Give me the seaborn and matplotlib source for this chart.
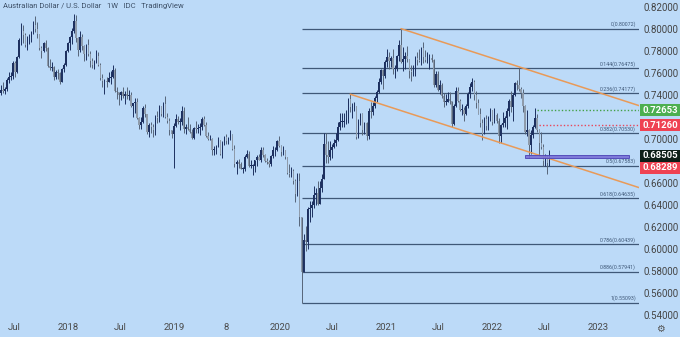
import numpy as np
import pandas as pd
import matplotlib
matplotlib.use("Agg")
import matplotlib.pyplot as plt
import matplotlib.dates as mdates
from matplotlib.patches import Rectangle
from matplotlib.transforms import blended_transform_factory
import seaborn as sns

# ---------------- data (weekly AUD/USD candles) ----------------
first_week = "2017-05-15"
first_open = 0.7420

close_2017 = [0.7450,0.7440,0.7460,0.7540,0.7570,0.7580,0.7690,0.7610,0.7750,0.7900,0.7990,0.7950,0.7860,0.7930,0.7930,0.7980,0.8040,0.8000,0.7960,0.7830,0.7800,0.7880,0.7830,0.7670,0.7650,0.7660,0.7570,0.7610,0.7600,0.7520,0.7640,0.7680,0.7800]
high_2017 = [0.7490,0.7520,0.7480,0.7560,0.7610,0.7610,0.7710,0.7710,0.7760,0.7920,0.8060,0.8040,0.7970,0.7940,0.7960,0.7990,0.8080,0.8120,0.8070,0.7960,0.7850,0.7890,0.7900,0.7840,0.7730,0.7700,0.7670,0.7630,0.7640,0.7610,0.7650,0.7690,0.7810]
low_2017 = [0.7400,0.7420,0.7410,0.7440,0.7510,0.7540,0.7550,0.7570,0.7600,0.7740,0.7860,0.7880,0.7840,0.7810,0.7870,0.7890,0.7960,0.7980,0.7920,0.7810,0.7740,0.7790,0.7800,0.7660,0.7630,0.7620,0.7540,0.7550,0.7550,0.7500,0.7520,0.7610,0.7670]

close_2018 = [0.7880,0.7930,0.7990,0.8080,0.7920,0.7810,0.7930,0.7850,0.7780,0.7860,0.7780,0.7710,0.7680,0.7700,0.7760,0.7680,0.7560,0.7530,0.7530,0.7520,0.7560,0.7570,0.7630,0.7440,0.7430,0.7400,0.7430,0.7390,0.7410,0.7390,0.7400,0.7300,0.7330,0.7340,0.7190,0.7130,0.7160,0.7280,0.7230,0.7070,0.7130,0.7110,0.7080,0.7200,0.7190,0.7300,0.7230,0.7320,0.7200,0.7170,0.7080,0.7050,0.7120]
high_2018 = [0.7890,0.7940,0.8010,0.8140,0.8130,0.7930,0.7990,0.7960,0.7860,0.7870,0.7910,0.7800,0.7740,0.7720,0.7810,0.7790,0.7690,0.7590,0.7550,0.7570,0.7610,0.7620,0.7680,0.7650,0.7480,0.7430,0.7440,0.7480,0.7440,0.7480,0.7450,0.7430,0.7330,0.7380,0.7380,0.7200,0.7200,0.7300,0.7320,0.7230,0.7150,0.7160,0.7140,0.7220,0.7260,0.7310,0.7300,0.7340,0.7390,0.7240,0.7190,0.7080,0.7150]
low_2018 = [0.7790,0.7810,0.7870,0.7970,0.7890,0.7760,0.7790,0.7810,0.7710,0.7720,0.7760,0.7660,0.7650,0.7640,0.7690,0.7670,0.7540,0.7480,0.7410,0.7480,0.7520,0.7500,0.7560,0.7430,0.7370,0.7310,0.7360,0.7380,0.7320,0.7370,0.7360,0.7290,0.7200,0.7240,0.7180,0.7090,0.7090,0.7150,0.7200,0.7050,0.7020,0.7060,0.7020,0.7040,0.7150,0.7160,0.7210,0.7200,0.7190,0.7150,0.7040,0.7010,0.6740]

close_2019 = [0.7180,0.7160,0.7160,0.7260,0.7090,0.7110,0.7090,0.7070,0.7010,0.7100,0.7090,0.7100,0.7110,0.7180,0.7130,0.7030,0.7000,0.7000,0.6900,0.6910,0.6940,0.6990,0.6870,0.6970,0.7020,0.6980,0.7010,0.7040,0.6910,0.6770,0.6790,0.6770,0.6730,0.6730,0.6840,0.6870,0.6760,0.6760,0.6760,0.6810,0.6840,0.6810,0.6900,0.6860,0.6800,0.6790,0.6770,0.6850,0.6900,0.6900,0.6980,0.6940]
high_2019 = [0.7230,0.7210,0.7190,0.7300,0.7290,0.7140,0.7200,0.7140,0.7090,0.7110,0.7170,0.7140,0.7150,0.7200,0.7210,0.7160,0.7070,0.7040,0.7010,0.6940,0.6950,0.7020,0.6990,0.6980,0.7030,0.7050,0.7020,0.7080,0.7050,0.6950,0.6810,0.6820,0.6790,0.6750,0.6860,0.6900,0.6890,0.6810,0.6770,0.6810,0.6860,0.6870,0.6930,0.6930,0.6870,0.6830,0.6810,0.6860,0.6940,0.6930,0.6990,0.7030]
low_2019 = [0.7110,0.7140,0.7080,0.7130,0.7060,0.7050,0.7080,0.7060,0.7000,0.7000,0.7060,0.7060,0.7040,0.7080,0.7120,0.7020,0.6990,0.6990,0.6860,0.6860,0.6870,0.6930,0.6860,0.6830,0.6950,0.6960,0.6960,0.6990,0.6900,0.6750,0.6680,0.6740,0.6730,0.6690,0.6710,0.6830,0.6750,0.6740,0.6670,0.6700,0.6760,0.6810,0.6790,0.6840,0.6790,0.6770,0.6750,0.6760,0.6830,0.6850,0.6890,0.6930]

close_2020 = [0.6880,0.6900,0.6840,0.6690,0.6680,0.6710,0.6620,0.6500,0.6620,0.6290,0.5790,0.6080,0.6060,0.6360,0.6370,0.6400,0.6490,0.6510,0.6410,0.6560,0.6640,0.6960,0.6860,0.6840,0.6900,0.6930,0.6970,0.6990,0.7110,0.7160,0.7160,0.7160,0.7180,0.7370,0.7290,0.7300,0.7300,0.7020,0.7160,0.7230,0.7080,0.7150,0.7030,0.7260,0.7250,0.7300,0.7380,0.7430,0.7520,0.7630,0.7580,0.7700]
high_2020 = [0.6950,0.6940,0.6900,0.6840,0.6770,0.6750,0.6730,0.6640,0.6690,0.6690,0.6290,0.6140,0.6210,0.6380,0.6440,0.6440,0.6570,0.6560,0.6620,0.6620,0.6680,0.7060,0.7060,0.6980,0.6980,0.6960,0.7000,0.7060,0.7160,0.7240,0.7240,0.7240,0.7270,0.7380,0.7410,0.7330,0.7340,0.7300,0.7180,0.7240,0.7240,0.7160,0.7160,0.7280,0.7340,0.7340,0.7390,0.7450,0.7560,0.7640,0.7640,0.7720]
low_2020 = [0.6850,0.6860,0.6820,0.6680,0.6660,0.6660,0.6590,0.6430,0.6480,0.6210,0.5510,0.5830,0.5980,0.6000,0.6250,0.6290,0.6370,0.6400,0.6400,0.6420,0.6520,0.6660,0.6780,0.6780,0.6810,0.6830,0.6920,0.6940,0.6980,0.7080,0.7110,0.7110,0.7140,0.7150,0.7250,0.7190,0.7260,0.7000,0.7010,0.7130,0.7040,0.7050,0.6990,0.7000,0.7190,0.7220,0.7280,0.7340,0.7420,0.7500,0.7460,0.7560]

close_2021 = [0.7750,0.7710,0.7740,0.7640,0.7640,0.7760,0.7860,0.7700,0.7730,0.7760,0.7730,0.7620,0.7610,0.7620,0.7740,0.7720,0.7710,0.7830,0.7750,0.7720,0.7720,0.7740,0.7720,0.7490,0.7590,0.7450,0.7490,0.7390,0.7340,0.7340,0.7370,0.7350,0.7140,0.7300,0.7440,0.7350,0.7270,0.7270,0.7230,0.7300,0.7410,0.7480,0.7520,0.7400,0.7330,0.7230,0.7150,0.7050,0.7180,0.7120,0.7200,0.7270]
high_2021 = [0.7820,0.7790,0.7760,0.7820,0.7680,0.7770,0.7900,0.8007,0.7840,0.7790,0.7850,0.7730,0.7680,0.7680,0.7760,0.7790,0.7820,0.7840,0.7890,0.7810,0.7790,0.7780,0.7780,0.7730,0.7620,0.7620,0.7540,0.7510,0.7420,0.7410,0.7430,0.7430,0.7350,0.7320,0.7480,0.7480,0.7370,0.7320,0.7290,0.7320,0.7430,0.7510,0.7560,0.7540,0.7440,0.7370,0.7280,0.7180,0.7200,0.7220,0.7210,0.7280]
low_2021 = [0.7660,0.7640,0.7660,0.7590,0.7560,0.7620,0.7710,0.7690,0.7620,0.7640,0.7700,0.7560,0.7530,0.7580,0.7580,0.7680,0.7700,0.7680,0.7690,0.7700,0.7690,0.7640,0.7700,0.7480,0.7480,0.7440,0.7410,0.7380,0.7290,0.7310,0.7340,0.7320,0.7110,0.7130,0.7290,0.7340,0.7260,0.7220,0.7170,0.7220,0.7280,0.7380,0.7440,0.7360,0.7280,0.7230,0.7110,0.6990,0.7050,0.7080,0.7080,0.7170]

close_2022 = [0.7160,0.7220,0.7170,0.7030,0.7130,0.7150,0.7190,0.7260,0.7350,0.7290,0.7400,0.7510,0.7490,0.7460,0.7420,0.7300,0.7070,0.7080,0.6950,0.7040,0.7110,0.7190,0.7080,0.6970,0.6930,0.6800,0.6820,0.6780,0.6850]
high_2022 = [0.7270,0.7280,0.7240,0.7190,0.7140,0.7250,0.7210,0.7280,0.7370,0.7440,0.7420,0.7520,0.7540,0.7660,0.7480,0.7460,0.7310,0.7270,0.7090,0.7080,0.7130,0.7280,0.7230,0.7090,0.7070,0.6960,0.6870,0.6860,0.6900]
low_2022 = [0.7130,0.7150,0.7150,0.6970,0.6970,0.7110,0.7110,0.7090,0.7210,0.7250,0.7170,0.7390,0.7450,0.7440,0.7380,0.7250,0.7050,0.7030,0.6830,0.6870,0.7010,0.7100,0.7070,0.6850,0.6910,0.6760,0.6760,0.6680,0.6760]

fib_ratios = ["0", "0.144", "0.236", "0.382", "0.5", "0.618", "0.786", "0.886", "1"]
fib_prices = [0.80072, 0.76475, 0.74177, 0.70530, 0.67583, 0.64635, 0.60439, 0.57941, 0.55093]

channel_top_weeks = ["2021-02-22", "2022-04-04"]
channel_bottom_week = "2020-08-31"

tag_prices = [0.72653, 0.71260, 0.68505, 0.68289]
tag_colors = ["#4caf50", "#ef4252", "#0d1f18", "#ef4252"]
dotted_levels = [0.72653, 0.71260]
dotted_starts = ["2022-06-06", "2022-06-13"]
dotted_colors = ["#43a047", "#e8465a"]
zone_start = "2022-04-25"
zone_low, zone_high = 0.68289, 0.68560

x_tick_dates = ["2017-07-01", "2018-01-01", "2018-07-01", "2019-01-01", "2019-07-01", "2020-01-01",
                "2020-07-01", "2021-01-01", "2021-07-01", "2022-01-01", "2022-07-01", "2023-01-01"]
x_tick_labels = ["Jul", "2018", "Jul", "2019", "8", "2020", "Jul", "2021", "Jul", "2022", "Jul", "2023"]
y_ticks = [0.54, 0.56, 0.58, 0.60, 0.62, 0.64, 0.66, 0.68, 0.70, 0.72, 0.74, 0.76, 0.78, 0.80, 0.82]
y_ticks_hidden = [0.68, 0.72]  # covered by the price tags in the reference

# ---------------- build frame ----------------
close = np.array(close_2017 + close_2018 + close_2019 + close_2020 + close_2021 + close_2022)
high = np.array(high_2017 + high_2018 + high_2019 + high_2020 + high_2021 + high_2022)
low = np.array(low_2017 + low_2018 + low_2019 + low_2020 + low_2021 + low_2022)
opens = np.concatenate([[first_open], close[:-1]])
dates = pd.date_range(first_week, periods=len(close), freq="7D")
df = pd.DataFrame({"date": dates, "open": opens, "high": high, "low": low, "close": close})
df["x"] = mdates.date2num(df["date"])

# ---------------- style ----------------
bg = "#bcdaf8"
sns.set_theme(style="white", rc={"axes.facecolor": bg, "figure.facecolor": bg})
plt.rcParams["font.family"] = ["Roboto", "DejaVu Sans"]

fig = plt.figure(figsize=(6.8, 3.37), dpi=100)
ax = fig.add_axes([0, 17 / 337, 639 / 680, 320 / 337])
ax.set_facecolor(bg)

x_left = mdates.date2num(pd.Timestamp("2017-05-12"))
x_right = mdates.date2num(pd.Timestamp("2023-05-23"))
y_top = 0.8268
y_bot = y_top - 320 / 1098
ax.set_xlim(x_left, x_right)
ax.set_ylim(y_bot, y_top)

# ---------------- fib retracement ----------------
fib_color = "#3f5878"
fib_x0 = df.loc[df["low"].idxmin(), "x"]
ax.hlines(fib_prices, fib_x0, x_right, colors=fib_color, lw=0.9, zorder=1)
day_per_px = (x_right - x_left) / 639
for r, p in zip(fib_ratios, fib_prices):
    ax.text(x_right - 3 * day_per_px, p + 1.5 / 1098, f"{r}({p:.5f})", ha="right", va="bottom",
            fontsize=3.8, color=fib_color, zorder=2)

# ---------------- candles ----------------
up = df["close"] >= df["open"]
body_lo = np.minimum(df["open"], df["close"])
body_hi = np.maximum(df["open"], df["close"])
body_h = np.maximum(body_hi - body_lo, 0.0005)
up_col, dn_col = "#1d3060", "#8e9bab"
wick_cols = np.where(up, "#1d3060", "#56657a")
ax.vlines(df["x"], np.minimum(df["low"], body_lo), np.maximum(df["high"], body_hi),
          colors=wick_cols, lw=0.7, zorder=3)
ax.bar(df["x"], body_h, bottom=body_lo, width=4.6, color=np.where(up, up_col, dn_col),
       linewidth=0, zorder=4)

# ---------------- channel ----------------
orange = "#e99a58"
t0 = df.loc[df["date"] == pd.Timestamp(channel_top_weeks[0])].iloc[0]
t1 = df.loc[df["date"] == pd.Timestamp(channel_top_weeks[1])].iloc[0]
slope = (t1["high"] - t0["high"]) / (t1["x"] - t0["x"])
sns.lineplot(x=[t0["x"], x_right], y=[t0["high"], t0["high"] + slope * (x_right - t0["x"])],
             ax=ax, color=orange, lw=1.1, zorder=5)
b0 = df.loc[df["date"] == pd.Timestamp(channel_bottom_week)].iloc[0]
sns.lineplot(x=[b0["x"], x_right], y=[b0["high"], b0["high"] + slope * (x_right - b0["x"])],
             ax=ax, color=orange, lw=1.1, zorder=5)

# ---------------- dotted levels & zone ----------------
for lvl, st, c in zip(dotted_levels, dotted_starts, dotted_colors):
    ax.hlines(lvl, mdates.date2num(pd.Timestamp(st)), x_right, colors=c, lw=1.0,
              linestyles=(0, (1, 1.5)), zorder=5)
zx0 = mdates.date2num(pd.Timestamp(zone_start))
zx1 = x_right - 10 * day_per_px
ax.add_patch(Rectangle((zx0, zone_low), zx1 - zx0, zone_high - zone_low, facecolor="#7870d6",
                       edgecolor="#4e45b8", lw=0.7, alpha=0.9, zorder=6))

# ---------------- axes / ticks ----------------
for s in ax.spines.values():
    s.set_visible(False)
ax.yaxis.tick_right()
ax.set_yticks(y_ticks)
ax.set_yticklabels(["" if any(abs(v - h) < 1e-9 for h in y_ticks_hidden) else f"{v:.5f}"
                    for v in y_ticks])
ax.tick_params(axis="y", length=0, pad=3, labelsize=7, labelcolor="#444444")
ax.set_xticks(mdates.date2num(pd.to_datetime(x_tick_dates)))
ax.set_xticklabels(x_tick_labels)
ax.tick_params(axis="x", length=0, pad=2.5, labelsize=6.8, labelcolor="#4a4a4a")
ax.set_xlabel("")
ax.set_ylabel("")
ax.grid(False)

# ---------------- price tags ----------------
blend = blended_transform_factory(ax.transAxes, ax.transData)
box_w = 40 / 639
box_h = 12 / 1098
centers = list(tag_prices)
centers[3] = centers[2] - box_h  # stacked under the previous tag
for p, c, col in zip(tag_prices, centers, tag_colors):
    ax.add_patch(Rectangle((1.0016, c - box_h / 2), box_w, box_h, transform=blend, facecolor=col,
                           edgecolor="none", clip_on=False, zorder=10))
    ax.text(1.0016 + box_w / 2, c, f"{p:.5f}", transform=blend, ha="center", va="center",
            color="white", fontsize=6.8, fontweight="bold", clip_on=False, zorder=11)

fig.text(3 / 680, 1 - 6 / 337, "Australian Dollar / U.S. Dollar   1W   IDC   TradingView",
         fontsize=5.5, color="#3d4f66", va="center", ha="left")
fig.text(660 / 680, 1 - 329 / 337, "\u2699", fontsize=7, color="#555555", ha="center", va="center",
         family=["DejaVu Sans"])

fig.savefig("out.png", dpi=100, facecolor=bg)
